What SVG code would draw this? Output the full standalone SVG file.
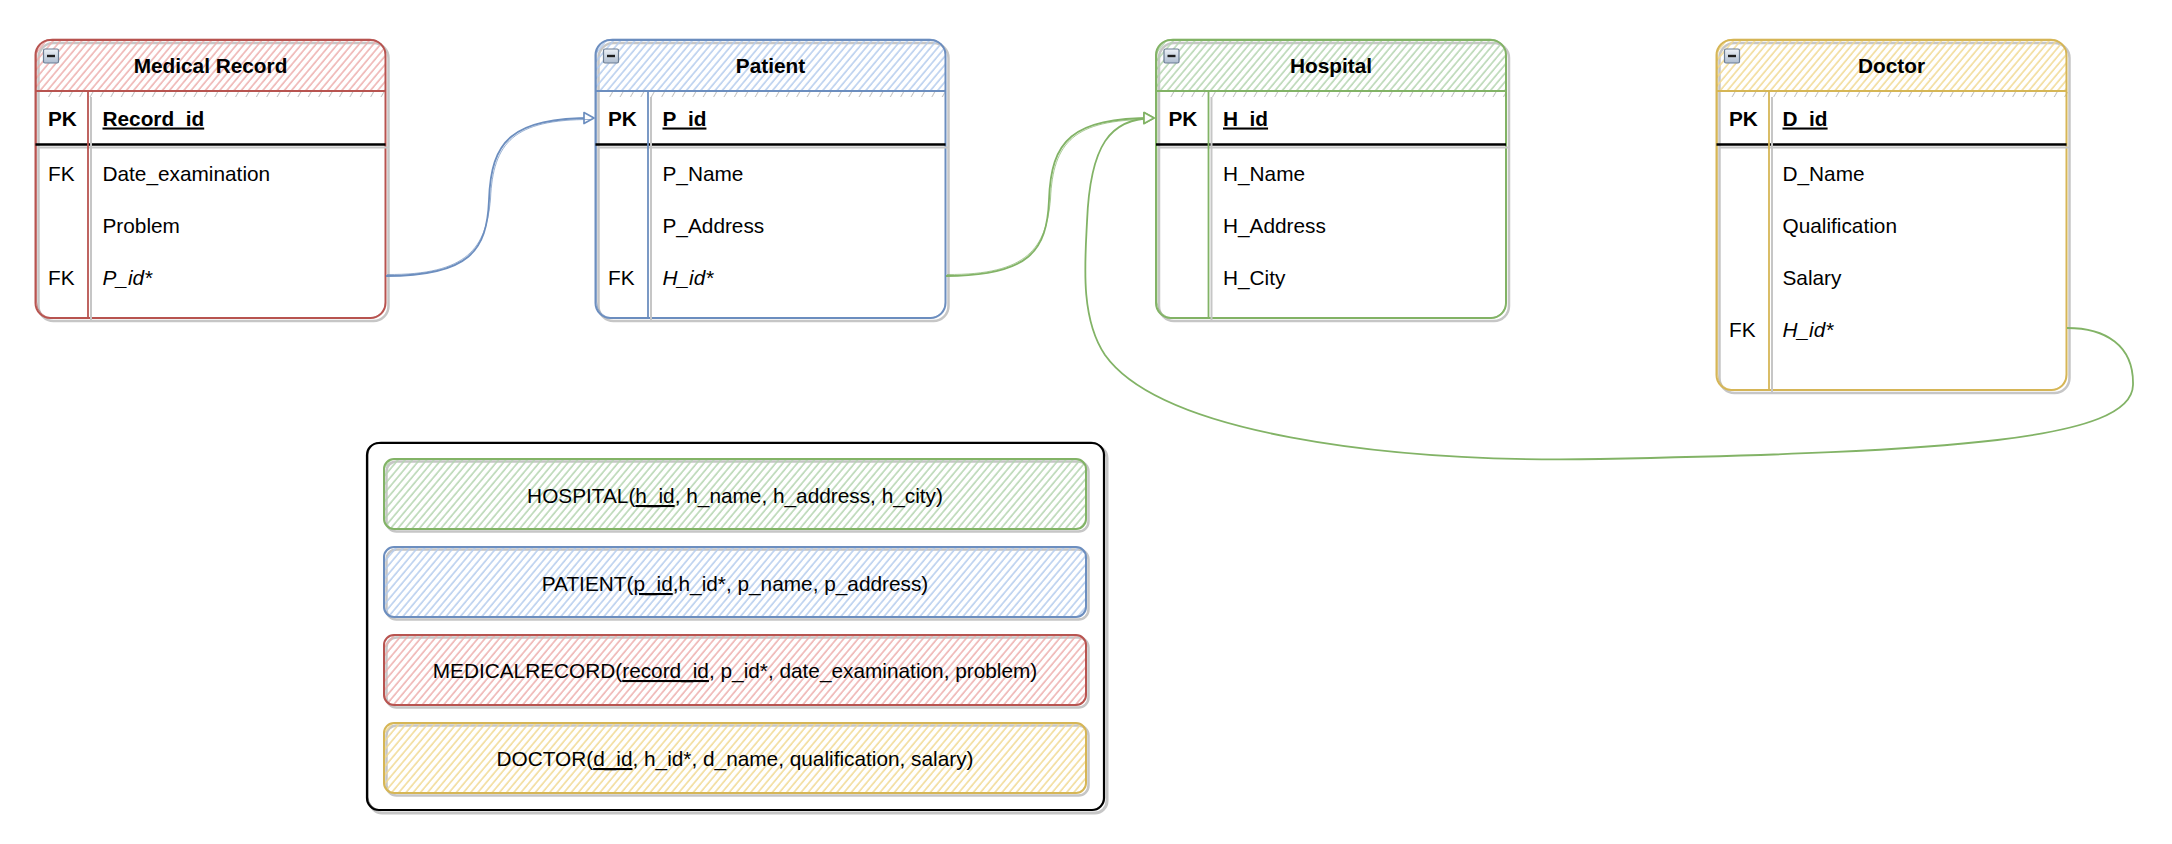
<svg xmlns="http://www.w3.org/2000/svg" width="2172" height="844" viewBox="0 0 2172 844">
<style>
text { font-family: "Liberation Sans", Arial, Helvetica, sans-serif; font-size: 20.8px; fill: #000; }
.title { font-weight: bold; text-anchor: middle; }
.b { font-weight: bold; }
.u { text-decoration: underline; }
.it { font-style: italic; }
.mid { text-anchor: middle; }
.shadow { fill: none; stroke: #c6c6c6; stroke-width: 2.5; }
.shline { stroke: #c6c6c6; stroke-width: 2; fill: none; }
.thick { stroke: #000; stroke-width: 2.6; }
.edge { fill: none; stroke-width: 1.8; }
.edge2 { fill: none; stroke-width: 1; opacity: 0.7; }
.red { stroke: #b85450; }
.blue { stroke: #6c8ebf; }
.green { stroke: #82b366; }
.yellow { stroke: #d6b656; }
.outline { fill: none; stroke-width: 2; }
.outline2 { fill: none; stroke-width: 1; opacity: 0.6; }
.icon rect { fill: url(#iconGrad); stroke: #6d7f95; stroke-width: 1.2; }
.icon line { stroke: #1e1e1e; stroke-width: 2.4; }
</style>
<defs>
  <pattern id="hRed" patternUnits="userSpaceOnUse" width="5.5" height="6" patternTransform="rotate(40)">
    <line x1="1" y1="-1" x2="1" y2="7" stroke="#eeb0ae" stroke-width="1.5"/>
  </pattern>
  <pattern id="hBlue" patternUnits="userSpaceOnUse" width="5.5" height="6" patternTransform="rotate(40)">
    <line x1="1" y1="-1" x2="1" y2="7" stroke="#b5ccee" stroke-width="1.5"/>
  </pattern>
  <pattern id="hGreen" patternUnits="userSpaceOnUse" width="5.5" height="6" patternTransform="rotate(40)">
    <line x1="1" y1="-1" x2="1" y2="7" stroke="#b5d5b1" stroke-width="1.5"/>
  </pattern>
  <pattern id="hYellow" patternUnits="userSpaceOnUse" width="5.5" height="6" patternTransform="rotate(40)">
    <line x1="1" y1="-1" x2="1" y2="7" stroke="#f1da94" stroke-width="1.5"/>
  </pattern>
  <pattern id="hGrey" patternUnits="userSpaceOnUse" width="9" height="9" patternTransform="rotate(30)">
    <line x1="0" y1="-1" x2="0" y2="10" stroke="#9a9a9a" stroke-width="1.2"/>
  </pattern>
  <linearGradient id="iconGrad" x1="0" y1="0" x2="0" y2="1">
    <stop offset="0" stop-color="#eef2f7"/>
    <stop offset="1" stop-color="#aebdd0"/>
  </linearGradient>
  <marker id="arrBlue" viewBox="0 0 14 14" refX="12" refY="7" markerWidth="14" markerHeight="14" markerUnits="userSpaceOnUse" orient="auto">
    <path d="M2,1.5 L12,7 L2,12.5 Z" fill="#fff" stroke="#6c8ebf" stroke-width="1.7" stroke-linejoin="round"/>
  </marker>
  <marker id="arrGreen" viewBox="0 0 14 14" refX="12" refY="7" markerWidth="14" markerHeight="14" markerUnits="userSpaceOnUse" orient="auto">
    <path d="M2,1.5 L12,7 L2,12.5 Z" fill="#fff" stroke="#82b366" stroke-width="1.7" stroke-linejoin="round"/>
  </marker>
</defs>

<rect x="0" y="0" width="2172" height="844" fill="#ffffff"/>

<!-- Medical Record -->
<g id="table-medical-record">
  <rect class="shadow" x="38.5" y="43" width="350" height="278" rx="15"/>
  <path d="M35.5,91 L35.5,55 Q35.5,40 50.5,40 L370.5,40 Q385.5,40 385.5,55 L385.5,91 Z" fill="url(#hRed)"/>
  <rect x="44" y="92" width="344" height="5" fill="url(#hGrey)"/>
  <rect class="outline red" x="35.5" y="40" width="350" height="278" rx="15"/>
  <rect class="outline2 red" x="36.5" y="39" width="349" height="279" rx="16"/>
  <line class="red" x1="35.5" y1="91" x2="385.5" y2="91" stroke-width="2"/>
  <line class="shline" x1="38.5" y1="147.5" x2="388.5" y2="147.5"/>
  <line class="thick" x1="35.5" y1="144.5" x2="385.5" y2="144.5"/>
  <line class="shline" x1="91" y1="97" x2="91" y2="321"/>
  <line class="red" x1="88" y1="91" x2="88" y2="318" stroke-width="1.8"/>
  <g class="icon"><rect x="43.5" y="49" width="15" height="14" rx="1.5"/><line x1="47" y1="56" x2="55" y2="56"/></g>
  <text class="title" x="210.5" y="73">Medical Record</text>
  <text class="b" x="48" y="125.5">PK</text>
  <text class="b u" x="102.5" y="125.5">Record_id</text>
  <text x="48" y="180.5">FK</text>
  <text x="102.5" y="180.5">Date_examination</text>
  <text x="102.5" y="232.5">Problem</text>
  <text x="48" y="284.5">FK</text>
  <text class="it" x="102.5" y="284.5">P_id*</text>
</g>

<!-- Patient -->
<g id="table-patient">
  <rect class="shadow" x="598.5" y="43" width="350" height="278" rx="15"/>
  <path d="M595.5,91 L595.5,55 Q595.5,40 610.5,40 L930.5,40 Q945.5,40 945.5,55 L945.5,91 Z" fill="url(#hBlue)"/>
  <rect x="604" y="92" width="344" height="5" fill="url(#hGrey)"/>
  <rect class="outline blue" x="595.5" y="40" width="350" height="278" rx="15"/>
  <rect class="outline2 blue" x="596.5" y="39" width="349" height="279" rx="16"/>
  <line class="blue" x1="595.5" y1="91" x2="945.5" y2="91" stroke-width="2"/>
  <line class="shline" x1="598.5" y1="147.5" x2="948.5" y2="147.5"/>
  <line class="thick" x1="595.5" y1="144.5" x2="945.5" y2="144.5"/>
  <line class="shline" x1="651" y1="97" x2="651" y2="321"/>
  <line class="blue" x1="648" y1="91" x2="648" y2="318" stroke-width="1.8"/>
  <g class="icon"><rect x="603.5" y="49" width="15" height="14" rx="1.5"/><line x1="607" y1="56" x2="615" y2="56"/></g>
  <text class="title" x="770.5" y="73">Patient</text>
  <text class="b" x="608" y="125.5">PK</text>
  <text class="b u" x="662.5" y="125.5">P_id</text>
  <text x="662.5" y="180.5">P_Name</text>
  <text x="662.5" y="232.5">P_Address</text>
  <text x="608" y="284.5">FK</text>
  <text class="it" x="662.5" y="284.5">H_id*</text>
</g>

<!-- Hospital -->
<g id="table-hospital">
  <rect class="shadow" x="1159" y="43" width="350" height="278" rx="15"/>
  <path d="M1156,91 L1156,55 Q1156,40 1171,40 L1491,40 Q1506,40 1506,55 L1506,91 Z" fill="url(#hGreen)"/>
  <rect x="1164.5" y="92" width="344" height="5" fill="url(#hGrey)"/>
  <rect class="outline green" x="1156" y="40" width="350" height="278" rx="15"/>
  <rect class="outline2 green" x="1157" y="39" width="349" height="279" rx="16"/>
  <line class="green" x1="1156" y1="91" x2="1506" y2="91" stroke-width="2"/>
  <line class="shline" x1="1159" y1="147.5" x2="1509" y2="147.5"/>
  <line class="thick" x1="1156" y1="144.5" x2="1506" y2="144.5"/>
  <line class="shline" x1="1211.5" y1="97" x2="1211.5" y2="321"/>
  <line class="green" x1="1208.5" y1="91" x2="1208.5" y2="318" stroke-width="1.8"/>
  <g class="icon"><rect x="1164" y="49" width="15" height="14" rx="1.5"/><line x1="1167.5" y1="56" x2="1175.5" y2="56"/></g>
  <text class="title" x="1331" y="73">Hospital</text>
  <text class="b" x="1168.5" y="125.5">PK</text>
  <text class="b u" x="1223" y="125.5">H_id</text>
  <text x="1223" y="180.5">H_Name</text>
  <text x="1223" y="232.5">H_Address</text>
  <text x="1223" y="284.5">H_City</text>
</g>

<!-- Doctor -->
<g id="table-doctor">
  <rect class="shadow" x="1719.5" y="43" width="350" height="350" rx="15"/>
  <path d="M1716.5,91 L1716.5,55 Q1716.5,40 1731.5,40 L2051.5,40 Q2066.5,40 2066.5,55 L2066.5,91 Z" fill="url(#hYellow)"/>
  <rect x="1725" y="92" width="344" height="5" fill="url(#hGrey)"/>
  <rect class="outline yellow" x="1716.5" y="40" width="350" height="350" rx="15"/>
  <rect class="outline2 yellow" x="1717.5" y="39" width="349" height="351" rx="16"/>
  <line class="yellow" x1="1716.5" y1="91" x2="2066.5" y2="91" stroke-width="2"/>
  <line class="shline" x1="1719.5" y1="147.5" x2="2069.5" y2="147.5"/>
  <line class="thick" x1="1716.5" y1="144.5" x2="2066.5" y2="144.5"/>
  <line class="shline" x1="1772" y1="97" x2="1772" y2="393"/>
  <line class="yellow" x1="1769" y1="91" x2="1769" y2="390" stroke-width="1.8"/>
  <g class="icon"><rect x="1724.5" y="49" width="15" height="14" rx="1.5"/><line x1="1728" y1="56" x2="1736" y2="56"/></g>
  <text class="title" x="1891.5" y="73">Doctor</text>
  <text class="b" x="1729" y="125.5">PK</text>
  <text class="b u" x="1782.5" y="125.5">D_id</text>
  <text x="1782.5" y="180.5">D_Name</text>
  <text x="1782.5" y="232.5">Qualification</text>
  <text x="1782.5" y="284.5">Salary</text>
  <text x="1729" y="336.5">FK</text>
  <text class="it" x="1782.5" y="336.5">H_id*</text>
</g>

<!-- Relational schema box -->
<g id="schema">
  <rect x="370" y="446" width="737" height="367" rx="12" fill="none" stroke="#c6c6c6" stroke-width="3"/>
  <rect x="367" y="443" width="737" height="367" rx="12" fill="#fff" stroke="#000" stroke-width="2.2"/>
  <rect x="368" y="442" width="736" height="368" rx="13" fill="none" stroke="#000" stroke-width="1" opacity="0.5"/>
  <g id="schema-hospital">
    <rect x="386.5" y="461.5" width="702" height="70" rx="10" class="shadow" stroke-width="1.5"/>
    <rect x="384" y="459" width="702" height="70" rx="10" fill="url(#hGreen)" class="green" stroke-width="2"/>
    <text class="mid" x="735" y="503">HOSPITAL(<tspan class="u">h_id</tspan>, h_name, h_address, h_city)</text>
  </g>
  <g id="schema-patient">
    <rect x="386.5" y="549.5" width="702" height="70" rx="10" class="shadow" stroke-width="1.5"/>
    <rect x="384" y="547" width="702" height="70" rx="10" fill="url(#hBlue)" class="blue" stroke-width="2"/>
    <text class="mid" x="735" y="591">PATIENT(<tspan class="u">p_id</tspan>,h_id*, p_name, p_address)</text>
  </g>
  <g id="schema-medicalrecord">
    <rect x="386.5" y="637.5" width="702" height="70" rx="10" class="shadow" stroke-width="1.5"/>
    <rect x="384" y="635" width="702" height="70" rx="10" fill="url(#hRed)" class="red" stroke-width="2"/>
    <text class="mid" x="735" y="678">MEDICALRECORD(<tspan class="u">record_id</tspan>, p_id*, date_examination, problem)</text>
  </g>
  <g id="schema-doctor">
    <rect x="386.5" y="725.5" width="702" height="70" rx="10" class="shadow" stroke-width="1.5"/>
    <rect x="384" y="723" width="702" height="70" rx="10" fill="url(#hYellow)" class="yellow" stroke-width="2"/>
    <text class="mid" x="735" y="766">DOCTOR(<tspan class="u">d_id</tspan>, h_id*, d_name, qualification, salary)</text>
  </g>
</g>

<!-- Connectors -->
<g id="connectors">
  <path id="e-record-patient" class="edge blue" d="M386,276 C470,276 487,250 489,200 C491,140 512,118 594,118" marker-end="url(#arrBlue)"/>
  <path class="edge2 blue" d="M387,274.5 C468,275 486,248 490.5,199 C493,142 514,119.5 590,119.5"/>
  <path id="e-patient-hospital" class="edge green" d="M946,276 C1030,276 1047,250 1049,200 C1051,140 1072,118 1154,118" marker-end="url(#arrGreen)"/>
  <path class="edge2 green" d="M947,274.5 C1028,275 1046,248 1050.5,199 C1053,142 1074,119.5 1150,119.5"/>
  <path id="e-doctor-hospital" class="edge green" d="M2067,328 C2105,328 2134,345 2133,385 C2132,440 1950,452 1600,459 C1380,463 1160,432 1105,355 C1080,318 1085,262 1087,222 C1090,145 1110,118 1154,118" marker-end="url(#arrGreen)"/>
</g>
</svg>
